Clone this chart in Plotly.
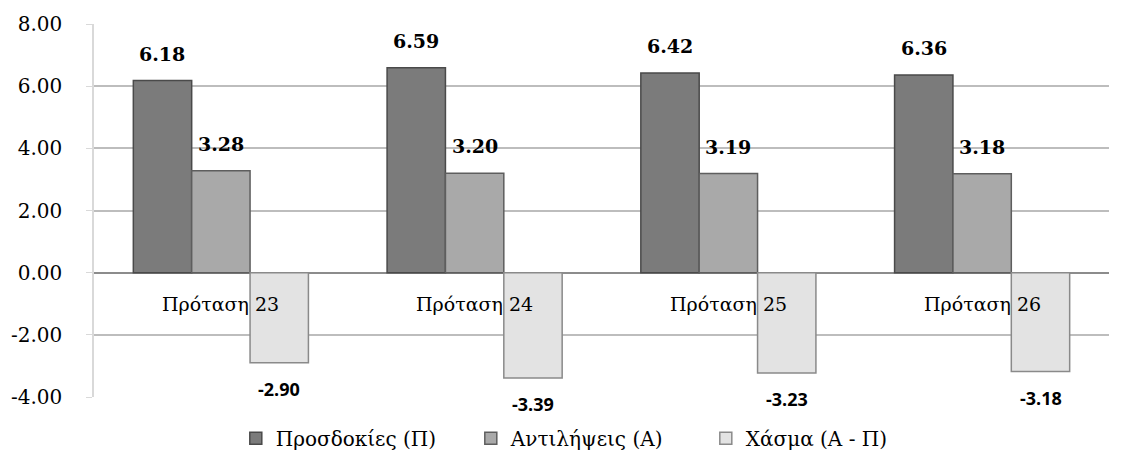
import plotly.graph_objects as go

categories = ["Πρόταση 23", "Πρόταση 24", "Πρόταση 25", "Πρόταση 26"]
expectations = [6.18, 6.59, 6.42, 6.36]
perceptions = [3.28, 3.20, 3.19, 3.18]
gap = [-2.90, -3.39, -3.23, -3.18]
series_names = ["Προσδοκίες (Π)", "Αντιλήψεις (Α)", "Χάσμα (Α - Π)"]
series_colors = ["#7b7b7b", "#a9a9a9", "#e3e3e3"]
edge_colors = ["#4a4a4a", "#5e5e5e", "#8a8a8a"]
ytick_vals = [-4, -2, 0, 2, 4, 6, 8]
ytick_text = [f"{v:.2f}" for v in ytick_vals]

serif = "DejaVu Serif"
sans = "Open Sans"

fig = go.Figure()
all_series = [expectations, perceptions, gap]
for name, vals, col, edge in zip(series_names, all_series, series_colors, edge_colors):
    fig.add_trace(go.Bar(
        x=categories, y=vals, name=name,
        marker=dict(color=col, line=dict(color=edge, width=1.5)),
        offsetgroup=name,
    ))

annotations = []
for si, vals in enumerate(all_series):
    for ci, v in enumerate(vals):
        pos = v >= 0
        annotations.append(dict(
            x=categories[ci], y=v, xref="x", yref="y",
            text=f"<b>{v:.2f}</b>", showarrow=False,
            xshift=(si - 1) * 58.5,
            yshift=27 if pos else -26,
            font=dict(family=serif if pos else sans, size=19 if pos else 18, color="#000000"),
        ))
for c in categories:
    annotations.append(dict(
        x=c, y=0, xref="x", yref="y", text=c, showarrow=False,
        yanchor="top", yshift=-18,
        font=dict(family=serif, size=19, color="#000000"),
    ))

fig.update_layout(
    barmode="group", bargap=0.31, bargroupgap=0,
    width=1134, height=464,
    margin=dict(l=86, r=33, t=16, b=75, autoexpand=False),
    paper_bgcolor="white", plot_bgcolor="white",
    annotations=annotations,
    legend=dict(orientation="h", x=0.487, xanchor="center", y=-0.058, yanchor="top",
                font=dict(family=serif, size=20, color="#000000"),
                entrywidth=190, entrywidthmode="pixels",
                itemwidth=30, tracegroupgap=0),
    xaxis=dict(showticklabels=False, showgrid=False, zeroline=False, showline=False, ticks=""),
    yaxis=dict(range=[-4, 8], tickvals=ytick_vals, ticktext=ytick_text,
               automargin=False,
               gridcolor="#bdbdbd", gridwidth=1.5,
               zeroline=True, zerolinecolor="#8c8c8c", zerolinewidth=2,
               showline=True, linecolor="#d9d9d9", linewidth=1.5,
               ticks="outside", ticklen=6, tickcolor="#d9d9d9",
               ticklabelstandoff=20,
               tickfont=dict(family=serif, size=20, color="#000000")),
)

fig.write_html("out.html")
